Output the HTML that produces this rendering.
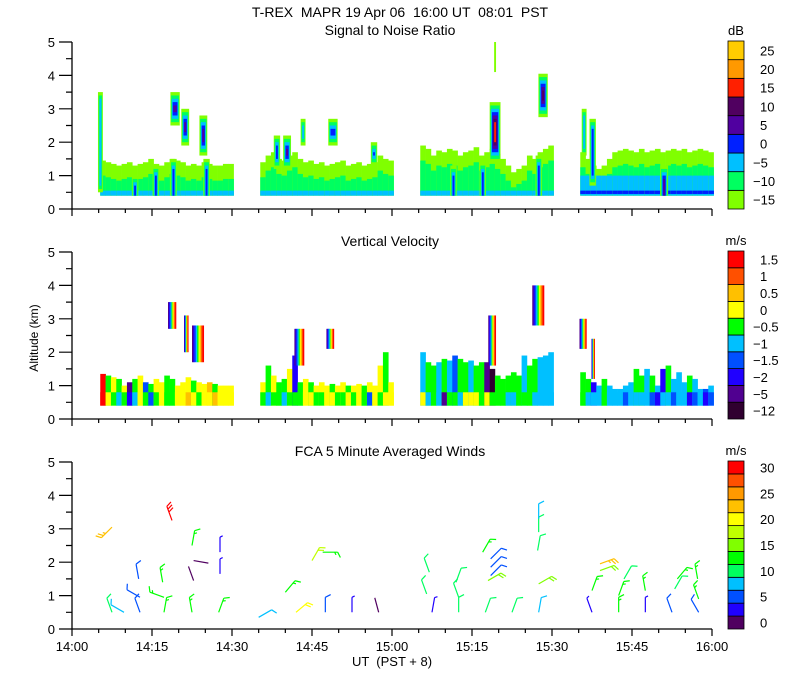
<!DOCTYPE html>
<html><head><meta charset="utf-8"><style>
body{margin:0;background:#fff;}
svg{display:block;font-family:"Liberation Sans",sans-serif;}
text{fill:#000;}
</style></head><body>
<svg id="chart" width="800" height="700" viewBox="0 0 800 700" xmlns="http://www.w3.org/2000/svg">
<text x="400" y="17" text-anchor="middle" font-size="14" xml:space="preserve">T-REX  MAPR 19 Apr 06  16:00 UT  08:01  PST</text>
<text x="390" y="35" text-anchor="middle" font-size="14">Signal to Noise Ratio</text>
<text x="390" y="246" text-anchor="middle" font-size="14">Vertical Velocity</text>
<text x="390" y="456" text-anchor="middle" font-size="14">FCA 5 Minute Averaged Winds</text>
<text x="38" y="338" text-anchor="middle" font-size="12" transform="rotate(-90 38 338)">Altitude (km)</text>
<text x="392" y="666" text-anchor="middle" font-size="13" xml:space="preserve">UT  (PST + 8)</text>
<g id="g1"></g>
<g id="g2"></g>
<g id="g3"></g>
<g id="axes"></g>
<g id="cbars"></g>
</svg>
<script>
// ---- data ----
const segStarts = [5.3, 35.3, 65.3, 95.3];
const snrTops = [
 [1.45,1.4,1.35,1.3,1.35,1.4,1.3,1.35,1.4,1.5,1.35,1.3,1.4,1.5,1.45,1.4,1.3,1.35,1.3,1.4,1.35,1.3,1.3,1.35,1.35],
 [1.4,1.6,1.7,1.5,1.45,1.6,1.7,1.5,1.4,1.45,1.35,1.4,1.3,1.35,1.4,1.45,1.3,1.35,1.4,1.3,1.35,1.4,1.6,1.5,1.45],
 [1.9,1.8,1.6,1.75,1.7,1.8,1.75,1.6,1.7,1.75,1.85,1.6,1.7,1.8,1.65,1.5,1.3,1.1,1.2,1.3,1.6,1.5,1.7,1.8,1.9],
 [1.7,1.5,1.3,1.2,1.3,1.5,1.7,1.75,1.8,1.75,1.7,1.8,1.7,1.75,1.8,1.7,1.75,1.8,1.75,1.8,1.7,1.75,1.8,1.75,1.7]];
const snrTowerT = [5.3,19.3,21.2,24.6,11.8,15.7,19.0,25.2,38.4,40.3,43.3,48.9,56.6,79.3,88.3,79.3,96.0,97.6,111.0,71.5,77.0,87.5];
const snrTowerBot = [0.5,2.5,1.9,1.6,0.4,0.4,0.4,0.4,1.2,1.2,1.9,1.9,1.3,1.4,2.75,4.1,1.6,0.7,0.4,0.4,0.4,0.4];
const snrTowerTop = [3.5,3.5,3.0,2.8,1.0,1.3,1.5,1.5,2.2,2.2,2.7,2.7,2.0,3.2,4.05,5.0,3.0,2.7,1.3,1.3,1.4,1.6];
const snrTowerPeak = [-5,10,5,5,0,0,0,0,0,5,-5,10,0,15,10,-15,-5,0,5,0,0,0];
const velTops = [
 [1.35,1.3,1.25,1.2,1.0,1.1,1.2,1.3,1.1,1.05,1.2,1.1,1.3,1.2,1.0,1.1,1.25,1.15,1.1,1.05,1.1,1.05,1.0,1.0,1.0],
 [1.1,1.6,1.3,1.1,1.2,1.5,1.9,1.1,1.2,1.1,1.0,1.1,1.0,1.05,1.0,1.1,1.0,1.0,1.05,1.0,1.1,1.0,1.6,2.0,1.1],
 [2.0,1.7,1.6,1.7,1.8,1.75,1.9,1.8,1.7,1.75,1.6,1.7,1.7,1.5,1.3,1.2,1.3,1.4,1.3,1.9,1.6,1.8,1.85,1.9,2.0],
 [1.4,1.2,1.1,1.0,1.2,1.0,0.9,0.9,1.0,1.1,1.5,1.3,1.5,1.3,1.0,1.5,1.6,1.2,1.4,1.1,1.3,1.2,0.9,0.9,1.0]];
const velLow = [
 [1.5,0,-0.5,-1,-0.5,-2,-1,0,-0.5,-1.5,-0.5,0,-0.5,-0.5,0,0,0.5,0,-0.5,0,0,0.5,0,0,0],
 [-0.5,-1,-0.5,-0.5,-1,-0.5,-0.5,-0.5,0,0,-0.5,-0.5,0,0,-0.5,-0.5,0,-0.5,0,-0.5,-1.5,0,-0.5,0,0],
 [0,-1,-0.5,-1,-5,-0.5,-0.5,-1,0,0,0,-0.5,0,-0.5,-0.5,-0.5,-1,-1,-0.5,-0.5,-0.5,-1,-1,-1,-1],
 [-0.5,-1,-1,-1,-0.5,-1,-1,-1,-1.5,-1,-1,-1,-1,-1.5,-2,-1,-1,-1.5,-1,-1,-2,-1.5,-1,-2,-1.5]];
const velHigh = [
 [1.5,-0.5,0,-0.5,0,-5,-0.5,0,-1.5,-0.5,0,0,-0.5,-0.5,0,0,0,-0.5,0,0,0.5,-0.5,0,0,0],
 [0,-0.5,0,-0.5,-0.5,0,-2,-0.5,0,-0.5,0,0,0,-0.5,0,0,-0.5,0,0,-0.5,0,0,0,-0.5,0],
 [-1,-0.5,-0.5,-1,-0.5,-1,-1.5,-0.5,-0.5,-1,-0.5,-0.5,-5,-12,-0.5,-0.5,-0.5,-0.5,-0.5,-1,-0.5,-0.5,-1,-1,-1],
 [-0.5,-0.5,-2,-1,-0.5,-1,-1,-1,-1,-1,-0.5,-0.5,-1,-0.5,-1,-2,-0.5,-1,-1,-1,-0.5,-1,-1,-1.5,-1]];
const velTowerT = [18.75,21.4,23.6,42.6,48.4,78.75,87.4,95.8,97.7];
const velTowerW = [1.5,0.8,2.2,1.8,1.4,1.4,2.2,1.3,0.6];
const velTowerBot = [2.7,2.0,1.7,1.6,2.1,1.6,2.8,2.1,1.2];
const velTowerTop = [3.5,3.1,2.8,2.7,2.7,3.1,4.0,3.0,2.4];
const windT = [7.5,7.5,9.75,12.75,12.75,12.5,17.25,17.25,17,18.75,22.5,22.5,22.8,22.8,27.75,27.75,27.5,35,40,42,45,47,47.5,52.5,57.5,
 67.5,66.5,67,72.5,72.5,72,77.5,77,78.5,78.5,78.5,78,82.5,87.5,87.3,87.5,87.5,87.5,97.5,97.5,99,99,102.5,102.5,103.5,107.5,107.5,112.5,113,113.5,117.5,117.5,117.3];
const windH = [3.05,0.5,0.5,0.5,0.95,1.5,0.5,0.95,1.4,3.25,0.5,2.5,1.45,2.05,1.65,2.3,0.5,0.35,1.1,0.5,2.05,2.3,0.5,0.5,0.5,
 0.5,1.05,1.7,0.5,0.95,1.4,0.5,2.3,1.6,1.85,2.1,1.45,0.5,0.5,2.35,2.9,3.3,1.35,0.5,1.15,1.95,1.75,0.5,1.0,1.5,0.5,1.15,0.5,1.2,1.5,0.5,0.9,1.5];
const windSpd = [23,10,9,5,5,5,13,13,14,30,13,14,2,2,4,4,13,9,13,20,19,14,5,4,1,
 4,12,12,11,10,10,12,13,6,6,6,17,12,9,11,10,9,17,4,13,24,15,13,13,10,4,13,5,10,13,5,13,13];
const windDir = [225,340,300,340,300,350,10,290,350,340,350,10,340,100,0,0,20,60,40,50,30,90,0,0,345,
 10,340,340,0,340,20,20,30,45,45,45,60,20,10,10,0,0,60,340,20,70,70,0,20,30,0,350,340,30,40,330,340,350];
// ---- scales ----
const X = t => 72 + t * 640 / 120;
const base = [209, 419, 629];
const Y = (h, p) => base[p] - h * 33.4;
const NS = 'http://www.w3.org/2000/svg';
function mk(tag, attrs, parent) { const e = document.createElementNS(NS, tag); for (const k in attrs) e.setAttribute(k, attrs[k]); parent.appendChild(e); return e; }
const snrLevels = [-15,-10,-5,0,5,10,15,20,25];
const snrColors = ['#80ff00','#00ff60','#00c0ff','#0020ff','#5000a0','#500060','#ff2000','#ff9900','#ffcc00'];
const velLevels = [-12,-5,-2,-1.5,-1,-0.5,0,0.5,1,1.5];
const velColors = ['#300030','#500090','#2000ff','#0050ff','#00c0ff','#00ff00','#ffff00','#ffc000','#ff5000','#ff0000'];
const windLevels = [0,5,10,15,20,25,30];
const windBarColors = ['#500060','#2000ff','#0050ff','#00c0ff','#00ff60','#00ff00','#80ff00','#c0ff00','#ffff00','#ffc000','#ff9900','#ff5000','#ff0000'];
const snrC = v => snrColors[Math.max(0, snrLevels.indexOf(v))];
const velC = v => velColors[Math.max(0, velLevels.indexOf(v))];
const windC = s => windBarColors[Math.min(12, Math.floor(s / 2.5))];
function cell(g, t0, t1, h0, h1, p, color, name) {
  const r = mk('rect', {x: X(t0), y: Y(h1, p), width: X(t1) - X(t0) + 0.3, height: Y(h0, p) - Y(h1, p), fill: color}, g);
  
  
}
// ---- SNR ----
const g1 = document.getElementById('g1');
segStarts.forEach((s, si) => {
  snrTops[si].forEach((top, i) => {
    const t0 = s + i, t1 = s + i + 1;
    cell(g1, t0, t1, 0.4, top, 0, snrC(-15), 'snr-cell');
    cell(g1, t0, t1, 0.4, top - 0.45, 0, snrC(-10), 'snr-cell');
    cell(g1, t0, t1, 0.4, si === 3 ? 1.0 : 0.55, 0, snrC(-5), 'snr-cell');
    if (si === 3) cell(g1, t0, t1, 0.45, 0.55, 0, snrC(0), 'snr-cell');
  });
});
snrTowerT.forEach((t, i) => {
  const b = snrTowerBot[i], tp = snrTowerTop[i], pk = snrTowerPeak[i];
  const pi = snrLevels.indexOf(pk);
  for (let k = 0; k <= pi; k++) {
    const w = Math.max(0.25, (pi - k) * 0.28 + 0.3);
    const ins = k * 0.1;
    if (tp - ins <= b + (b > 0.45 ? ins : 0)) break;
    cell(g1, t - w / 2, t + w / 2, b + (b > 0.45 ? ins : 0), tp - ins, 0, snrColors[k], 'snr-tower');
  }
});
// ---- Velocity ----
const g2 = document.getElementById('g2');
segStarts.forEach((s, si) => {
  velTops[si].forEach((top, i) => {
    const t0 = s + i, t1 = s + i + 1;
    cell(g2, t0, t1, 0.4, top, 1, velC(velHigh[si][i]), 'velocity-cell');
    cell(g2, t0, t1, 0.4, Math.min(top, 0.8), 1, velC(velLow[si][i]), 'velocity-cell');
  });
});
const stripe = [-5,-2,-1.5,-1,-0.5,0,0.5,1,1.5];
velTowerT.forEach((t, i) => {
  const w = velTowerW[i], n = stripe.length;
  stripe.forEach((v, k) => {
    cell(g2, t - w / 2 + k * w / n, t - w / 2 + (k + 1) * w / n, velTowerBot[i], velTowerTop[i], 1, velC(v), 'velocity-tower');
  });
});
// ---- Winds ----
const g3 = document.getElementById('g3');
windT.forEach((t, i) => {
  const x0 = X(t), y0 = Y(windH[i], 2), a = windDir[i] * Math.PI / 180, L = 15;
  const dx = Math.sin(a), dy = -Math.cos(a);
  const x1 = x0 + dx * L, y1 = y0 + dy * L, col = windC(windSpd[i]);
  let d = `M${x0},${y0}L${x1},${y1}`;
  let s = windSpd[i], k = 0;
  while (s >= 2.5) {
    const len = s >= 5 ? 6 : 3;
    const bx = x1 - dx * k * 3, by = y1 - dy * k * 3;
    const px = dx * Math.cos(1.1) - dy * Math.sin(1.1), py = dx * Math.sin(1.1) + dy * Math.cos(1.1);
    d += `M${bx},${by}L${bx + px * len},${by + py * len}`;
    s -= 10; k++;
  }
  const p = mk('path', {d: d, stroke: col, 'stroke-width': 1.2, fill: 'none'}, g3);
  
  
});
// ---- Axes ----
const ax = document.getElementById('axes');
const xLabels = ['14:00','14:15','14:30','14:45','15:00','15:15','15:30','15:45','16:00'];
const yLabels = ['0','1','2','3','4','5'];
[0, 1, 2].forEach(p => {
  const by = base[p];
  const l = mk('path', {d: `M72,${Y(5, p)}L72,${by}L712,${by}`, stroke: '#000', 'stroke-width': 1.3, fill: 'none'}, ax);
  
  
  let d = '';
  for (let h = 0; h <= 5; h += 0.5) { const y = Y(h, p); d += `M${h % 1 === 0 ? 59 : 66},${y}L72,${y}`; }
  for (let m = 0; m <= 120; m += 5) { const x = X(m); d += `M${x},${by}L${x},${by + (m % 15 === 0 ? 7 : 4)}`; }
  const tk = mk('path', {d: d, stroke: '#000', 'stroke-width': 1.2, fill: 'none'}, ax);
  
  
  yLabels.forEach((s, i) => {
    const tx = mk('text', {x: 55, y: Y(i, p) + 5, 'text-anchor': 'end', 'font-size': 13}, ax);
    tx.textContent = s;
    
    
  });
});
xLabels.forEach((s, i) => {
  const tx = mk('text', {x: X(i * 15), y: 651, 'text-anchor': 'middle', 'font-size': 13}, ax);
  tx.textContent = s;
  
  
});
// ---- Colorbars ----
const cb = document.getElementById('cbars');
const cbLabelsSnr = ['-15','-10','-5','0','5','10','15','20','25'];
const cbLabelsVel = ['-12','-5','-2','-1.5','-1','-0.5','0','0.5','1','1.5'];
const cbLabelsWind = ['0','5','10','15','20','25','30'];
function colorbar(top, bot, colors, labels, unit, lblEvery, lblOffset) {
  const n = colors.length, h = (bot - top) / n;
  colors.forEach((c, i) => {
    const r = mk('rect', {x: 728, y: bot - (i + 1) * h, width: 16, height: h, fill: c, stroke: '#000', 'stroke-width': 0.8}, cb);
    
    
  });
  labels.forEach((s, i) => {
    const y = bot - (i * lblEvery + lblOffset) * h + 5;
    const tx = mk('text', {x: s.startsWith('-') ? 753 : 760, y: y, 'font-size': 13}, cb);
    tx.textContent = s.replace('-', '\u2212');
    
    
  });
  const u = mk('text', {x: 736, y: top - 6, 'text-anchor': 'middle', 'font-size': 13}, cb);
  u.textContent = unit;
  
  
}
colorbar(41, 209, snrColors, cbLabelsSnr, 'dB', 1, 0.5);
colorbar(251, 419, velColors, cbLabelsVel, 'm/s', 1, 0.5);
colorbar(461, 629, windBarColors, cbLabelsWind, 'm/s', 2, 0.5);
</script>
</body></html>
